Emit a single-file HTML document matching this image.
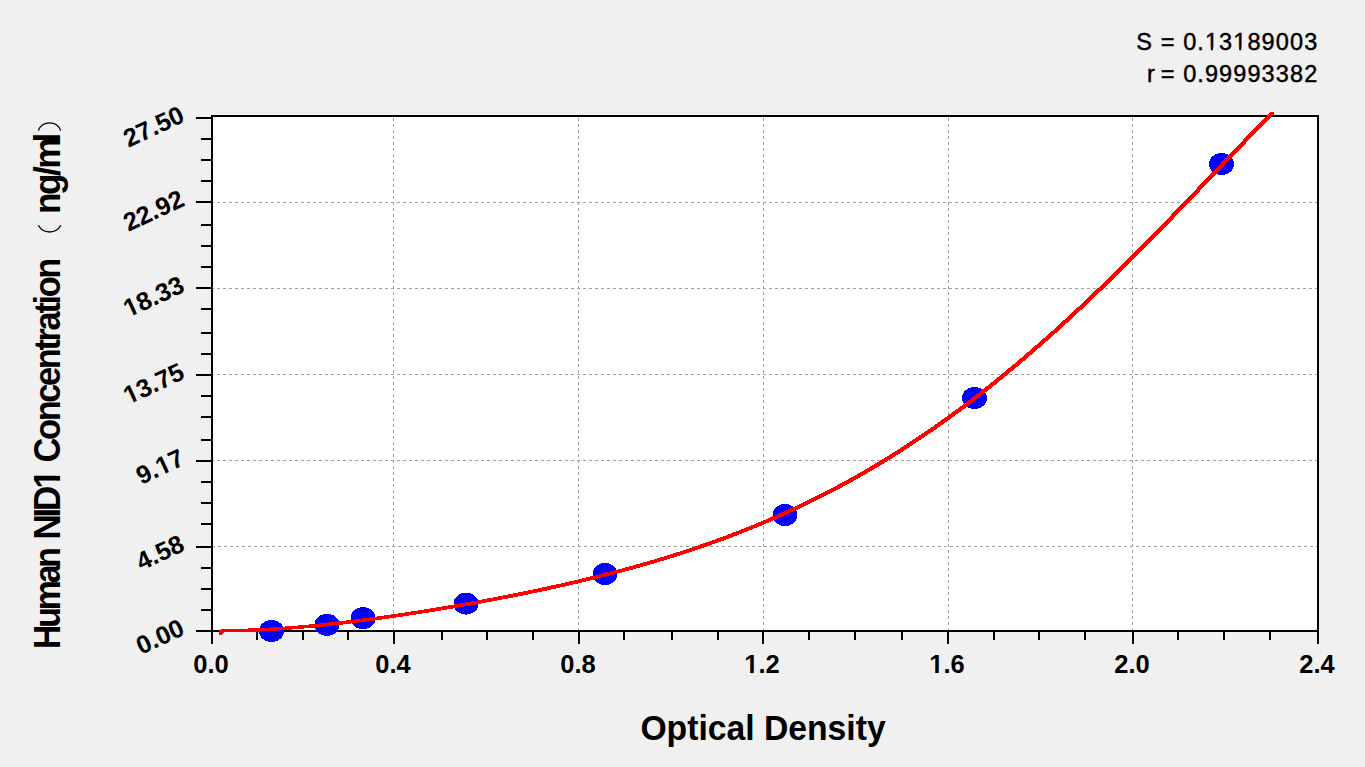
<!DOCTYPE html><html><head><meta charset="utf-8"><title>Human NID1 standard curve</title><style>html,body{margin:0;padding:0;background:#f0f0f0;overflow:hidden}svg{display:block}text{font-family:"Liberation Sans",sans-serif}</style></head><body>
<svg width="1365" height="767" viewBox="0 0 1365 767">
<rect x="0" y="0" width="1365" height="767" fill="#f0f0f0"/>
<rect x="211" y="115" width="1107" height="516" fill="#ffffff"/>
<path d="M393.5 118V630 M578.5 118V630 M763.5 118V630 M948.5 118V630 M1132.5 118V630 M211 202.5H1317 M211 288.5H1317 M211 374.5H1317 M211 460.5H1317 M212 546.5H1317" stroke="#a0a0a0" stroke-width="1" stroke-dasharray="3 3" fill="none" shape-rendering="crispEdges"/>
<path d="M211 115H1319V117H211ZM211 630H1319V632H211ZM211 115H213V644H211ZM1317 115H1319V644H1317ZM196 630H211V632H196ZM196 546H211V548H196ZM196 460H211V462H196ZM196 374H211V376H196ZM196 287H211V289H196ZM196 201H211V203H196ZM196 117H211V119H196ZM201 138H211V140H201ZM201 159H211V161H201ZM201 180H211V182H201ZM201 224H211V226H201ZM201 245H211V247H201ZM201 266H211V268H201ZM201 308H211V310H201ZM201 332H211V334H201ZM201 353H211V355H201ZM201 395H211V397H201ZM201 416H211V418H201ZM201 439H211V441H201ZM201 481H211V483H201ZM201 502H211V504H201ZM201 523H211V525H201ZM201 567H211V569H201ZM201 588H211V590H201ZM201 609H211V611H201ZM393 632H395V644H393ZM578 632H580V644H578ZM762 632H764V644H762ZM947 632H949V644H947ZM1132 632H1134V644H1132ZM256 632H258V640H256ZM302 632H304V640H302ZM347 632H349V640H347ZM441 632H443V640H441ZM486 632H488V640H486ZM532 632H534V640H532ZM623 632H625V640H623ZM671 632H673V640H671ZM717 632H719V640H717ZM808 632H810V640H808ZM854 632H856V640H854ZM901 632H903V640H901ZM993 632H995V640H993ZM1038 632H1040V640H1038ZM1084 632H1086V640H1084ZM1177 632H1179V640H1177ZM1223 632H1225V640H1223ZM1269 632H1271V640H1269Z" fill="#000000" shape-rendering="crispEdges"/>
<ellipse cx="271.5" cy="631" rx="12.5" ry="11" fill="#0000ff" shape-rendering="crispEdges"/>
<ellipse cx="327" cy="624.8" rx="12.5" ry="11" fill="#0000ff" shape-rendering="crispEdges"/>
<ellipse cx="363" cy="618.2" rx="12.5" ry="11" fill="#0000ff" shape-rendering="crispEdges"/>
<ellipse cx="466" cy="603.6" rx="12.5" ry="11" fill="#0000ff" shape-rendering="crispEdges"/>
<ellipse cx="605" cy="574" rx="12.5" ry="11" fill="#0000ff" shape-rendering="crispEdges"/>
<ellipse cx="785" cy="515" rx="12.5" ry="11" fill="#0000ff" shape-rendering="crispEdges"/>
<ellipse cx="974.5" cy="398" rx="12.5" ry="11" fill="#0000ff" shape-rendering="crispEdges"/>
<ellipse cx="1221.5" cy="164" rx="12.5" ry="11" fill="#0000ff" shape-rendering="crispEdges"/>
<defs><path id="cv" d="M220 633.5 L223.0 630.6 L225.0 630.6 L227.0 630.6 L229.0 630.6 L231.0 630.6 L233.0 630.5 L235.0 630.5 L237.0 630.5 L239.0 630.4 L241.0 630.4 L243.0 630.4 L245.0 630.3 L247.0 630.2 L249.0 630.2 L251.0 630.1 L253.0 630.0 L255.0 630.0 L257.0 629.9 L259.0 629.8 L261.0 629.7 L263.0 629.6 L265.0 629.5 L267.0 629.4 L269.0 629.3 L271.0 629.2 L273.0 629.1 L275.0 628.9 L277.0 628.8 L279.0 628.7 L281.0 628.5 L283.0 628.4 L285.0 628.3 L287.0 628.1 L289.0 628.0 L291.0 627.8 L293.0 627.7 L295.0 627.5 L297.0 627.3 L299.0 627.2 L301.0 627.0 L303.0 626.8 L305.0 626.6 L307.0 626.5 L309.0 626.3 L311.0 626.1 L313.0 625.9 L315.0 625.7 L317.0 625.5 L319.0 625.3 L321.0 625.1 L323.0 624.9 L325.0 624.7 L327.0 624.5 L329.0 624.2 L331.0 624.0 L333.0 623.8 L335.0 623.6 L337.0 623.4 L339.0 623.1 L341.0 622.9 L343.0 622.7 L345.0 622.4 L347.0 622.2 L349.0 621.9 L351.0 621.7 L353.0 621.5 L355.0 621.2 L357.0 621.0 L359.0 620.7 L361.0 620.5 L363.0 620.2 L365.0 619.9 L367.0 619.7 L369.0 619.4 L371.0 619.1 L373.0 618.9 L375.0 618.6 L377.0 618.3 L379.0 618.1 L381.0 617.8 L383.0 617.5 L385.0 617.2 L387.0 616.9 L389.0 616.6 L391.0 616.4 L393.0 616.1 L395.0 615.8 L397.0 615.5 L399.0 615.2 L401.0 614.9 L403.0 614.6 L405.0 614.3 L407.0 614.0 L409.0 613.7 L411.0 613.4 L413.0 613.1 L415.0 612.8 L417.0 612.5 L419.0 612.2 L421.0 611.8 L423.0 611.5 L425.0 611.2 L427.0 610.9 L429.0 610.6 L431.0 610.2 L433.0 609.9 L435.0 609.6 L437.0 609.3 L439.0 608.9 L441.0 608.6 L443.0 608.3 L445.0 607.9 L447.0 607.6 L449.0 607.3 L451.0 606.9 L453.0 606.6 L455.0 606.2 L457.0 605.9 L459.0 605.5 L461.0 605.2 L463.0 604.8 L465.0 604.5 L467.0 604.1 L469.0 603.8 L471.0 603.4 L473.0 603.1 L475.0 602.7 L477.0 602.3 L479.0 602.0 L481.0 601.6 L483.0 601.2 L485.0 600.9 L487.0 600.5 L489.0 600.1 L491.0 599.7 L493.0 599.4 L495.0 599.0 L497.0 598.6 L499.0 598.2 L501.0 597.8 L503.0 597.5 L505.0 597.1 L507.0 596.7 L509.0 596.3 L511.0 595.9 L513.0 595.5 L515.0 595.1 L517.0 594.7 L519.0 594.3 L521.0 593.9 L523.0 593.5 L525.0 593.1 L527.0 592.7 L529.0 592.3 L531.0 591.8 L533.0 591.4 L535.0 591.0 L537.0 590.6 L539.0 590.2 L541.0 589.7 L543.0 589.3 L545.0 588.9 L547.0 588.5 L549.0 588.0 L551.0 587.6 L553.0 587.1 L555.0 586.7 L557.0 586.3 L559.0 585.8 L561.0 585.4 L563.0 584.9 L565.0 584.5 L567.0 584.0 L569.0 583.6 L571.0 583.1 L573.0 582.6 L575.0 582.2 L577.0 581.7 L579.0 581.2 L581.0 580.7 L583.0 580.3 L585.0 579.8 L587.0 579.3 L589.0 578.8 L591.0 578.3 L593.0 577.9 L595.0 577.4 L597.0 576.9 L599.0 576.4 L601.0 575.9 L603.0 575.4 L605.0 574.9 L607.0 574.3 L609.0 573.8 L611.0 573.3 L613.0 572.8 L615.0 572.3 L617.0 571.7 L619.0 571.2 L621.0 570.7 L623.0 570.1 L625.0 569.6 L627.0 569.1 L629.0 568.5 L631.0 568.0 L633.0 567.4 L635.0 566.9 L637.0 566.3 L639.0 565.7 L641.0 565.2 L643.0 564.6 L645.0 564.0 L647.0 563.5 L649.0 562.9 L651.0 562.3 L653.0 561.7 L655.0 561.1 L657.0 560.5 L659.0 559.9 L661.0 559.3 L663.0 558.7 L665.0 558.1 L667.0 557.5 L669.0 556.9 L671.0 556.3 L673.0 555.6 L675.0 555.0 L677.0 554.4 L679.0 553.7 L681.0 553.1 L683.0 552.4 L685.0 551.8 L687.0 551.1 L689.0 550.5 L691.0 549.8 L693.0 549.1 L695.0 548.5 L697.0 547.8 L699.0 547.1 L701.0 546.4 L703.0 545.7 L705.0 545.0 L707.0 544.3 L709.0 543.6 L711.0 542.9 L713.0 542.2 L715.0 541.5 L717.0 540.8 L719.0 540.0 L721.0 539.3 L723.0 538.6 L725.0 537.8 L727.0 537.1 L729.0 536.3 L731.0 535.6 L733.0 534.8 L735.0 534.0 L737.0 533.3 L739.0 532.5 L741.0 531.7 L743.0 530.9 L745.0 530.1 L747.0 529.3 L749.0 528.5 L751.0 527.7 L753.0 526.9 L755.0 526.1 L757.0 525.3 L759.0 524.4 L761.0 523.6 L763.0 522.8 L765.0 521.9 L767.0 521.1 L769.0 520.2 L771.0 519.4 L773.0 518.5 L775.0 517.6 L777.0 516.7 L779.0 515.9 L781.0 515.0 L783.0 514.1 L785.0 513.2 L787.0 512.3 L789.0 511.3 L791.0 510.4 L793.0 509.5 L795.0 508.6 L797.0 507.6 L799.0 506.7 L801.0 505.7 L803.0 504.8 L805.0 503.8 L807.0 502.9 L809.0 501.9 L811.0 500.9 L813.0 499.9 L815.0 498.9 L817.0 497.9 L819.0 496.9 L821.0 495.9 L823.0 494.9 L825.0 493.9 L827.0 492.8 L829.0 491.8 L831.0 490.8 L833.0 489.7 L835.0 488.7 L837.0 487.6 L839.0 486.5 L841.0 485.5 L843.0 484.4 L845.0 483.3 L847.0 482.2 L849.0 481.1 L851.0 480.0 L853.0 478.9 L855.0 477.8 L857.0 476.6 L859.0 475.5 L861.0 474.4 L863.0 473.2 L865.0 472.1 L867.0 470.9 L869.0 469.7 L871.0 468.6 L873.0 467.4 L875.0 466.2 L877.0 465.0 L879.0 463.8 L881.0 462.6 L883.0 461.4 L885.0 460.2 L887.0 458.9 L889.0 457.7 L891.0 456.5 L893.0 455.2 L895.0 454.0 L897.0 452.7 L899.0 451.4 L901.0 450.1 L903.0 448.9 L905.0 447.6 L907.0 446.3 L909.0 445.0 L911.0 443.7 L913.0 442.3 L915.0 441.0 L917.0 439.7 L919.0 438.3 L921.0 437.0 L923.0 435.6 L925.0 434.3 L927.0 432.9 L929.0 431.5 L931.0 430.2 L933.0 428.8 L935.0 427.4 L937.0 426.0 L939.0 424.6 L941.0 423.2 L943.0 421.7 L945.0 420.3 L947.0 418.9 L949.0 417.4 L951.0 416.0 L953.0 414.5 L955.0 413.0 L957.0 411.6 L959.0 410.1 L961.0 408.6 L963.0 407.1 L965.0 405.6 L967.0 404.1 L969.0 402.6 L971.0 401.1 L973.0 399.5 L975.0 398.0 L977.0 396.5 L979.0 394.9 L981.0 393.4 L983.0 391.8 L985.0 390.2 L987.0 388.6 L989.0 387.1 L991.0 385.5 L993.0 383.9 L995.0 382.3 L997.0 380.7 L999.0 379.0 L1001.0 377.4 L1003.0 375.8 L1005.0 374.1 L1007.0 372.5 L1009.0 370.8 L1011.0 369.2 L1013.0 367.5 L1015.0 365.9 L1017.0 364.2 L1019.0 362.5 L1021.0 360.8 L1023.0 359.1 L1025.0 357.4 L1027.0 355.7 L1029.0 354.0 L1031.0 352.2 L1033.0 350.5 L1035.0 348.8 L1037.0 347.0 L1039.0 345.3 L1041.0 343.5 L1043.0 341.8 L1045.0 340.0 L1047.0 338.2 L1049.0 336.4 L1051.0 334.7 L1053.0 332.9 L1055.0 331.1 L1057.0 329.3 L1059.0 327.4 L1061.0 325.6 L1063.0 323.8 L1065.0 322.0 L1067.0 320.1 L1069.0 318.3 L1071.0 316.5 L1073.0 314.6 L1075.0 312.8 L1077.0 310.9 L1079.0 309.0 L1081.0 307.1 L1083.0 305.3 L1085.0 303.4 L1087.0 301.5 L1089.0 299.6 L1091.0 297.7 L1093.0 295.8 L1095.0 293.9 L1097.0 292.0 L1099.0 290.0 L1101.0 288.1 L1103.0 286.2 L1105.0 284.2 L1107.0 282.3 L1109.0 280.4 L1111.0 278.4 L1113.0 276.5 L1115.0 274.5 L1117.0 272.5 L1119.0 270.6 L1121.0 268.6 L1123.0 266.6 L1125.0 264.6 L1127.0 262.6 L1129.0 260.7 L1131.0 258.7 L1133.0 256.7 L1135.0 254.7 L1137.0 252.7 L1139.0 250.6 L1141.0 248.6 L1143.0 246.6 L1145.0 244.6 L1147.0 242.6 L1149.0 240.5 L1151.0 238.5 L1153.0 236.5 L1155.0 234.4 L1157.0 232.4 L1159.0 230.4 L1161.0 228.3 L1163.0 226.3 L1165.0 224.2 L1167.0 222.2 L1169.0 220.1 L1171.0 218.1 L1173.0 216.0 L1175.0 213.9 L1177.0 211.9 L1179.0 209.8 L1181.0 207.7 L1183.0 205.7 L1185.0 203.6 L1187.0 201.5 L1189.0 199.4 L1191.0 197.3 L1193.0 195.3 L1195.0 193.2 L1197.0 191.1 L1199.0 189.0 L1201.0 186.9 L1203.0 184.8 L1205.0 182.8 L1207.0 180.7 L1209.0 178.6 L1211.0 176.5 L1213.0 174.4 L1215.0 172.3 L1217.0 170.2 L1219.0 168.1 L1221.0 166.1 L1223.0 164.0 L1225.0 161.9 L1227.0 159.8 L1229.0 157.7 L1231.0 155.6 L1233.0 153.5 L1235.0 151.4 L1237.0 149.4 L1239.0 147.3 L1241.0 145.2 L1243.0 143.1 L1245.0 141.0 L1247.0 139.0 L1249.0 136.9 L1251.0 134.8 L1253.0 132.7 L1255.0 130.7 L1257.0 128.6 L1259.0 126.5 L1261.0 124.5 L1263.0 122.4 L1265.0 120.4 L1267.0 118.3 L1269.0 116.3 L1271.0 114.2 L1272.5 112.7" stroke="#ff0000" stroke-width="1.4" fill="none" shape-rendering="crispEdges"/></defs><g>
<use href="#cv" x="-1" y="-1"/>
<use href="#cv" x="-1" y="0"/>
<use href="#cv" x="-1" y="1"/>
<use href="#cv" x="0" y="-1"/>
<use href="#cv" x="0" y="0"/>
<use href="#cv" x="0" y="1"/>
<use href="#cv" x="1" y="-1"/>
<use href="#cv" x="1" y="0"/>
<use href="#cv" x="1" y="1"/>
</g>
<g transform="translate(1318.3 50)"><text id="tS" x="0" y="0" font-size="23.5" letter-spacing="1.1" stroke="#000" stroke-width="0.45" fill="#000" text-anchor="end">S = 0.13189003</text><rect x="-112.28" y="-2.47" width="4.82" height="3.67" fill="#f0f0f0"/><rect x="-105.39" y="-2.47" width="4.69" height="3.67" fill="#f0f0f0"/><rect x="-83.94" y="-2.47" width="4.82" height="3.67" fill="#f0f0f0"/><rect x="-77.04" y="-2.47" width="4.69" height="3.67" fill="#f0f0f0"/></g>
<g transform="translate(1318.3 82)"><text id="tR" x="0" y="0" font-size="23.5" letter-spacing="1.1" stroke="#000" stroke-width="0.45" fill="#000" text-anchor="end">r<tspan dx="-3"> </tspan>= 0.99993382</text></g>
<g transform="translate(211 673)"><text id="tx0_0" x="0" y="0" text-anchor="middle" font-size="25.5" font-weight="bold" fill="#000">0.0</text></g>
<g transform="translate(393 673)"><text id="tx0_4" x="0" y="0" text-anchor="middle" font-size="25.5" font-weight="bold" fill="#000">0.4</text></g>
<g transform="translate(578 673)"><text id="tx0_8" x="0" y="0" text-anchor="middle" font-size="25.5" font-weight="bold" fill="#000">0.8</text></g>
<g transform="translate(762 673)"><text id="tx1_2" x="0" y="0" text-anchor="middle" font-size="25.5" font-weight="bold" fill="#000">1.2</text><rect x="-16.61" y="-3.11" width="4.83" height="4.31" fill="#f0f0f0"/><rect x="-8.28" y="-3.11" width="4.49" height="4.31" fill="#f0f0f0"/></g>
<g transform="translate(947 673)"><text id="tx1_6" x="0" y="0" text-anchor="middle" font-size="25.5" font-weight="bold" fill="#000">1.6</text><rect x="-16.61" y="-3.11" width="4.83" height="4.31" fill="#f0f0f0"/><rect x="-8.28" y="-3.11" width="4.49" height="4.31" fill="#f0f0f0"/></g>
<g transform="translate(1132 673)"><text id="tx2_0" x="0" y="0" text-anchor="middle" font-size="25.5" font-weight="bold" fill="#000">2.0</text></g>
<g transform="translate(1317 673)"><text id="tx2_4" x="0" y="0" text-anchor="middle" font-size="25.5" font-weight="bold" fill="#000">2.4</text></g>
<g transform="translate(763 740) scale(0.963 1)"><text id="tOD" x="0" y="0" text-anchor="middle" font-size="35" font-weight="bold" fill="#000">Optical Density</text></g>
<g transform="translate(186 634) rotate(-25)"><text id="ty0_00" x="0" y="0" text-anchor="end" font-size="25.4" font-weight="bold" fill="#000">0.00</text></g>
<g transform="translate(186 550) rotate(-25)"><text id="ty4_58" x="0" y="0" text-anchor="end" font-size="25.4" font-weight="bold" fill="#000">4.58</text></g>
<g transform="translate(186 464) rotate(-25)"><text id="ty9_17" x="0" y="0" text-anchor="end" font-size="25.4" font-weight="bold" fill="#000">9.17</text><rect x="-27.13" y="-3.10" width="4.81" height="4.30" fill="#f0f0f0"/><rect x="-18.84" y="-3.10" width="4.48" height="4.30" fill="#f0f0f0"/></g>
<g transform="translate(186 378) rotate(-25)"><text id="ty13_75" x="0" y="0" text-anchor="end" font-size="25.4" font-weight="bold" fill="#000">13.75</text><rect x="-62.43" y="-3.10" width="4.81" height="4.30" fill="#f0f0f0"/><rect x="-54.13" y="-3.10" width="4.48" height="4.30" fill="#f0f0f0"/></g>
<g transform="translate(186 291) rotate(-25)"><text id="ty18_33" x="0" y="0" text-anchor="end" font-size="25.4" font-weight="bold" fill="#000">18.33</text><rect x="-62.43" y="-3.10" width="4.81" height="4.30" fill="#f0f0f0"/><rect x="-54.13" y="-3.10" width="4.48" height="4.30" fill="#f0f0f0"/></g>
<g transform="translate(186 205) rotate(-25)"><text id="ty22_92" x="0" y="0" text-anchor="end" font-size="25.4" font-weight="bold" fill="#000">22.92</text></g>
<g transform="translate(186 121) rotate(-25)"><text id="ty27_50" x="0" y="0" text-anchor="end" font-size="25.4" font-weight="bold" fill="#000">27.50</text></g>
<g transform="translate(60 649) rotate(-90) scale(0.964 1.045)"><text id="tH" x="0" y="0" letter-spacing="-3.2" font-size="35" font-weight="bold" fill="#000">Human</text></g>
<g transform="translate(60 539.5) rotate(-90) scale(1 1.045)"><text id="tN" x="0" y="0" letter-spacing="-3.2" font-size="35" font-weight="bold" fill="#000">NID1</text><rect x="52.18" y="-4.27" width="6.63" height="5.47" fill="#f0f0f0"/><rect x="63.62" y="-4.27" width="6.17" height="5.47" fill="#f0f0f0"/></g>
<g transform="translate(60 462.5) rotate(-90) scale(0.983 1.045)"><text id="tC" x="0" y="0" letter-spacing="-2.4" font-size="35" font-weight="bold" fill="#000">Concentration</text></g>
<g transform="translate(60 214) rotate(-90) scale(1 1.045)"><text id="tU" x="0" y="0" letter-spacing="-2.4" font-size="35" font-weight="bold" fill="#000">ng/m<tspan dx="-2.4">l</tspan></text></g>
<path d="M38.3 225.3 A12.9 12.9 0 0 0 60.9 225.3 M38.4 130.4 A12 12 0 0 1 60.7 130.4" stroke="#000" stroke-width="1.3" fill="none"/>
</svg></body></html>
